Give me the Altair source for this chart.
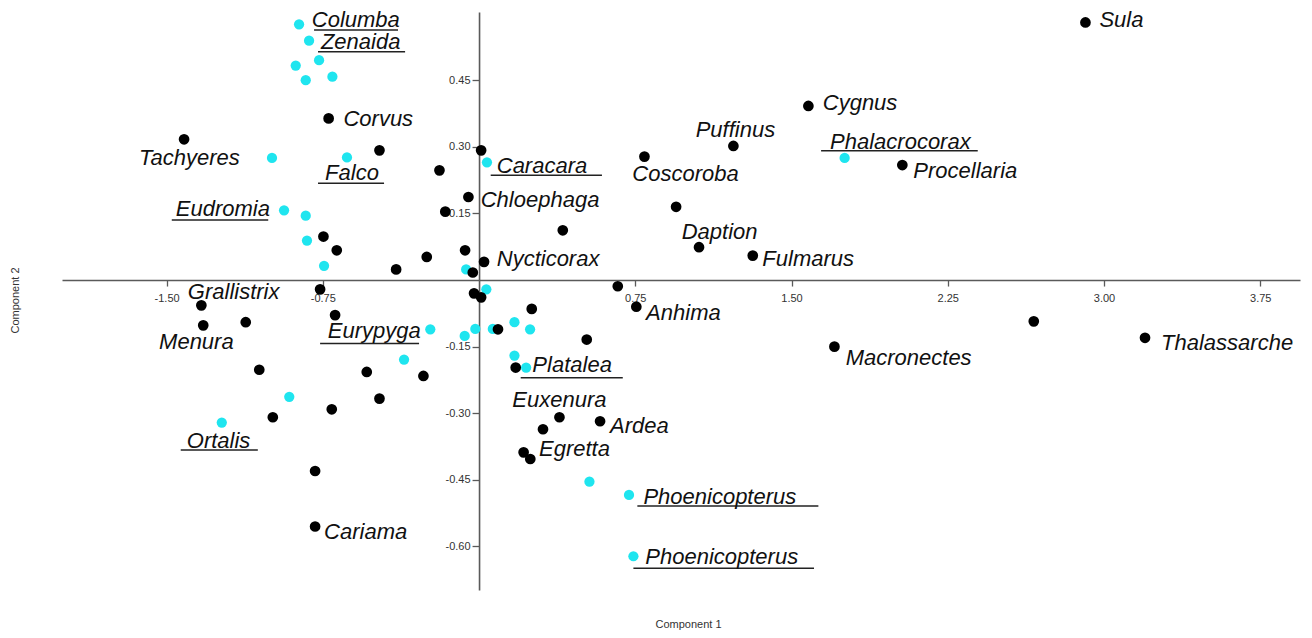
import altair as alt
import pandas as pd

# ---- data ----
black_x = [-1.416, -0.722, -0.478, -0.190, 0.010, -0.051, -0.162, -0.747, -0.683, -0.398,
           -0.251, -0.067, -0.030, 0.024, 0.402, 0.794, 1.221, 1.581, 0.946, 1.056,
           1.314, 0.666, 0.755, -0.024, 0.010, 0.253, 0.091, 0.517, 1.706, 0.176,
           -0.267, -1.333, -1.324, -1.120, -0.763, -0.691, -1.055, -0.990, -0.707, -0.539,
           -0.478, -0.787, -0.787, 0.386, 0.307, 0.581, 0.214, 0.246, 2.911, 2.032,
           2.663, 3.197]
black_y = [0.317, 0.364, 0.292, 0.247, 0.292, 0.187, 0.154, 0.098, 0.067, 0.024,
           0.052, 0.067, 0.017, 0.041, 0.112, 0.278, 0.302, 0.392, 0.165, 0.074,
           0.055, -0.014, -0.060, -0.030, -0.039, -0.065, -0.111, -0.134, -0.150, -0.197,
           -0.216, -0.057, -0.102, -0.095, -0.021, -0.079, -0.202, -0.309, -0.291, -0.207,
           -0.267, -0.430, -0.555, -0.309, -0.336, -0.318, -0.388, -0.403, 0.580, 0.259,
           -0.093, -0.130]

cyan_x = [-0.864, -0.816, -0.768, -0.880, -0.832, -0.704, -0.994, -0.634, -0.936, -0.832,
          -0.826, -0.744, -0.062, 0.038, 0.035, -0.234, -0.069, -0.018, 0.066, 0.170,
          0.245, 0.170, 0.226, 1.755, -0.360, -0.911, -1.235, 0.530, 0.720, 0.741]
cyan_y = [0.576, 0.539, 0.495, 0.483, 0.450, 0.458, 0.275, 0.276, 0.157, 0.145,
          0.089, 0.032, 0.024, 0.265, -0.021, -0.111, -0.126, -0.110, -0.110, -0.095,
          -0.111, -0.170, -0.197, 0.275, -0.179, -0.263, -0.321, -0.454, -0.484, -0.622]

label_names = ["Columba", "Zenaida", "Corvus", "Tachyeres", "Falco", "Eudromia", "Grallistrix",
               "Menura", "Eurypyga", "Ortalis", "Cariama", "Caracara", "Chloephaga", "Nycticorax",
               "Coscoroba", "Puffinus", "Daption", "Fulmarus", "Anhima", "Platalea", "Euxenura",
               "Ardea", "Egretta", "Phoenicopterus", "Phoenicopterus", "Sula", "Cygnus",
               "Phalacrocorax", "Procellaria", "Macronectes", "Thalassarche"]
label_x = [-0.803, -0.759, -0.651, -1.632, -0.739, -1.456, -1.398,
           -1.536, -0.726, -1.403, -0.744, 0.085, 0.008, 0.085,
           0.736, 1.040, 0.973, 1.360, 0.802, 0.256, 0.160,
           0.629, 0.288, 0.789, 0.798, 2.978, 1.650,
           1.685, 2.085, 1.760, 3.274]
label_y = [0.569, 0.520, 0.347, 0.259, 0.225, 0.144, -0.043,
           -0.155, -0.131, -0.378, -0.584, 0.240, 0.165, 0.032,
           0.223, 0.321, 0.092, 0.032, -0.090, -0.208, -0.285,
           -0.345, -0.396, -0.505, -0.640, 0.569, 0.383,
           0.295, 0.229, -0.191, -0.158]

underline_x1 = [-0.792, -0.773, -0.773, -1.475, -0.763, -1.432, 0.056, 0.200, 0.760, 0.741, 1.642]
underline_x2 = [-0.389, -0.355, -0.456, -1.012, -0.288, -1.062, 0.590, 0.690, 1.629, 1.608, 2.394]
underline_y = [0.563, 0.514, 0.218, 0.135, -0.143, -0.383, 0.236, -0.220, -0.509, -0.649, 0.291]

x_ticks = [-1.5, -0.75, 0.75, 1.5, 2.25, 3.0, 3.75]
y_ticks = [-0.6, -0.45, -0.3, -0.15, 0.15, 0.3, 0.45]

# ---- layout ----
W, H = 1238, 578
X_DOM = [-2.002, 3.941]
Y_DOM = [-0.698, 0.6036]
x0_px = (0 - X_DOM[0]) / (X_DOM[1] - X_DOM[0]) * W
y0_px = (Y_DOM[1] - 0) / (Y_DOM[1] - Y_DOM[0]) * H

AXIS_COLOR = "#5a5a5a"
LABEL_EXPR = "replace(format(datum.value, '.2f'), '\u2212', '-')"

x_axis = alt.Axis(values=x_ticks, offset=-(H - y0_px), grid=False, domainColor=AXIS_COLOR,
                  domainWidth=1.6, tickColor=AXIS_COLOR, tickWidth=1.3, tickSize=6,
                  labelFont="Liberation Sans", labelFontSize=11, labelColor="#333333",
                  labelPadding=6, labelExpr=LABEL_EXPR, title="Component 1",
                  titleFont="Liberation Sans", titleFontSize=11, titleFontWeight="normal",
                  titleColor="#333333", titleX=688 - 62, titleY=624 - (12 + y0_px),
                  titleBaseline="middle")
y_axis = alt.Axis(values=y_ticks, offset=-x0_px, grid=False, domainColor=AXIS_COLOR,
                  domainWidth=1.6, tickColor=AXIS_COLOR, tickWidth=1.3, tickSize=7,
                  labelFont="Liberation Sans", labelFontSize=11, labelColor="#333333",
                  labelPadding=2, labelExpr=LABEL_EXPR, title="Component 2",
                  titleFont="Liberation Sans", titleFontSize=11, titleFontWeight="normal",
                  titleColor="#333333", titleX=15 - (62 + x0_px), titleY=300 - 12,
                  titleBaseline="middle", titleAngle=270)


def X(field):
    return alt.X(field, type="quantitative", scale=alt.Scale(domain=X_DOM, nice=False, zero=False),
                 axis=x_axis)


def Y(field):
    return alt.Y(field, type="quantitative", scale=alt.Scale(domain=Y_DOM, nice=False, zero=False),
                 axis=y_axis)


black_df = pd.DataFrame({"x": black_x, "y": black_y})
cyan_df = pd.DataFrame({"x": cyan_x, "y": cyan_y})
label_df = pd.DataFrame({"name": label_names, "x": label_x, "y": label_y})
under_df = pd.DataFrame({"x1": underline_x1, "x2": underline_x2, "y": underline_y})

underlines = alt.Chart(under_df).mark_rule(color="#222222", strokeWidth=1.5).encode(
    x=X("x1"), x2="x2", y=Y("y"))
cyan = alt.Chart(cyan_df).mark_circle(color="#1fe5ef", opacity=1, size=105).encode(
    x=X("x"), y=Y("y"))
black = alt.Chart(black_df).mark_circle(color="#000000", opacity=1, size=115).encode(
    x=X("x"), y=Y("y"))
labels = alt.Chart(label_df).mark_text(align="left", baseline="alphabetic", font="Liberation Sans",
                                       fontStyle="italic", fontSize=22, color="#111111").encode(
    x=X("x"), y=Y("y"), text="name")

chart = alt.layer(underlines, cyan, black, labels).properties(
    width=W, height=H, autosize=alt.AutoSizeParams(type="none"),
    padding={"left": 54, "top": 4, "right": 4, "bottom": 40},
    background="white",
).configure_view(strokeWidth=0)

chart.save("out.html", embed_options={"renderer": "svg", "actions": False})
